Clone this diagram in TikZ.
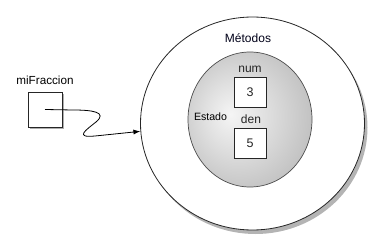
\documentclass[tikz,border=0pt]{standalone}
\usepackage{fontspec}
\setmainfont{Liberation Sans}
\usetikzlibrary{shadows,arrows.meta,shapes.geometric}
\pgfdeclareradialshading{estadoshade}{\pgfpoint{-8bp}{2bp}}{%
  color(0bp)=(gray!8); color(12bp)=(gray!24); color(30bp)=(gray!50); color(50bp)=(gray!64)}
\tikzset{
  valbox/.style={draw=black!85, line width=0.8pt, fill=white, minimum width=32pt, minimum height=30pt, inner sep=0pt, font=\fontsize{12.5}{14}\selectfont, text=black!85},
  reflabel/.style={font=\fontsize{12}{14}\selectfont, text=black!85},
  ptrbox/.style={draw=black!85, line width=0.8pt, fill=white, minimum width=34pt, minimum height=35pt, inner sep=0pt,
    drop shadow={shadow xshift=2pt, shadow yshift=-2pt, opacity=0.45, fill=black!70}},
}
\begin{document}
\begin{tikzpicture}[x=1pt,y=-1pt]
\useasboundingbox (0,0) rectangle (380,246);
% object: outer ring of methods
\node (obj) [ellipse, draw=black!85, line width=0.8pt, fill=white, minimum width=224pt, minimum height=213pt, inner sep=0pt,
  drop shadow={shadow xshift=3pt, shadow yshift=-4pt, opacity=0.45, fill=black!65}] at (252.5,123.5) {};
% inner state core
\node (core) [ellipse, draw=black!70, line width=0.7pt, minimum width=124pt, minimum height=135pt, inner sep=0pt, shading=estadoshade] at (250,119.5) {};
\node (met) [font=\fontsize{12}{14}\selectfont, text=black!90!blue] at (248,38) {Métodos};
\node (est) [font=\fontsize{10.6}{12}\selectfont] at (210.5,117) {Estado};
% instance variables
\node (numl) [reflabel] at (250,69) {num};
\node (num) [valbox] at (250,92) {3};
\node (denl) [reflabel] at (251,119) {den};
\node (den) [valbox] at (250,143.5) {5};
% reference variable
\node (ref) [ptrbox] at (45,109.5) {};
\node (refl) [font=\fontsize{11.7}{13}\selectfont] at (45,80) {miFraccion};
\draw [line width=0.8pt, -{Latex[length=7pt,width=5pt]}] (ref.center) -- (73,110)
  .. controls (92,110) and (108,112) .. (96,122)
  .. controls (86,130) and (74,138) .. (95,136)
  -- (obj.184);
\end{tikzpicture}
\end{document}
